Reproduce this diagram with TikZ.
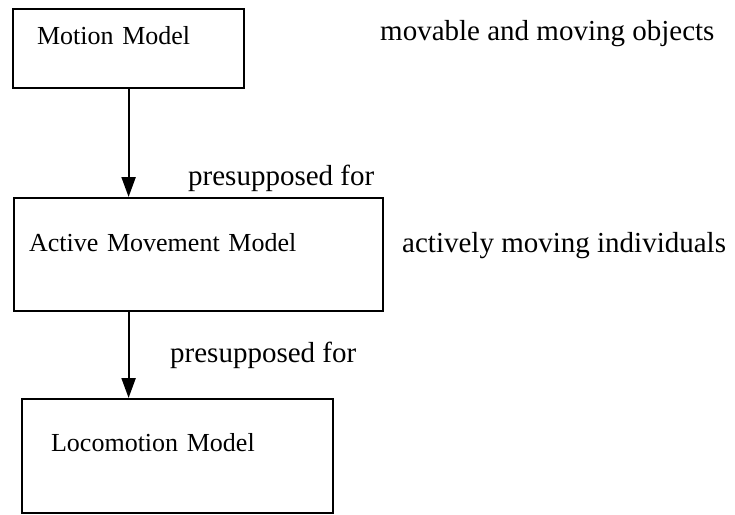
\documentclass[tikz,border=0pt]{standalone}
\usepackage{fontspec}
\setmainfont{Liberation Serif}
\usepackage{tikz}
\usetikzlibrary{arrows.meta}
\usetikzlibrary{calc,positioning}

\begin{document}
\begin{tikzpicture}[x=1pt, y=-1pt,
    model/.style={rectangle, draw=black, line width=2.2pt, anchor=north west,
    align=left, inner ysep=0pt, text=black, font=\fontsize{26}{30}\selectfont},
    note/.style={anchor=base west, inner sep=0pt, text=black, font=\fontsize{29}{33}\selectfont},
    presup/.style={-{Triangle[width=14pt,length=20pt]}, line width=2.2pt}]
    \useasboundingbox (0,0) rectangle (735,514);

    \node (motion) [model, inner xsep=24pt, text width=183pt, text height=35pt, text depth=44pt] at (12,8)
    {Motion Model};

    \node (active) [model, inner xsep=15pt, text width=339pt, text height=53pt, text depth=60pt] at (13,197)
    {Active Movement Model};

    \node (locomotion) [model, inner xsep=29pt, text width=253pt, text height=52pt, text depth=62pt] at (21,398)
    {Locomotion Model};

    \node (motionnote) [note] at (380,40) {movable and moving objects};
    \node (activenote) [note] at (402,252) {actively moving individuals};
    \node (presupa) [note] at (188,185) {presupposed for};
    \node (presupb) [note] at (170,362) {presupposed for};

    \draw [presup] ($(motion.south west)!0.5!(motion.south east)$) coordinate (ma)
        -- (ma |- active.north);
    \draw [presup] (ma |- active.south) -- (ma |- locomotion.north);
\end{tikzpicture}
\end{document}
